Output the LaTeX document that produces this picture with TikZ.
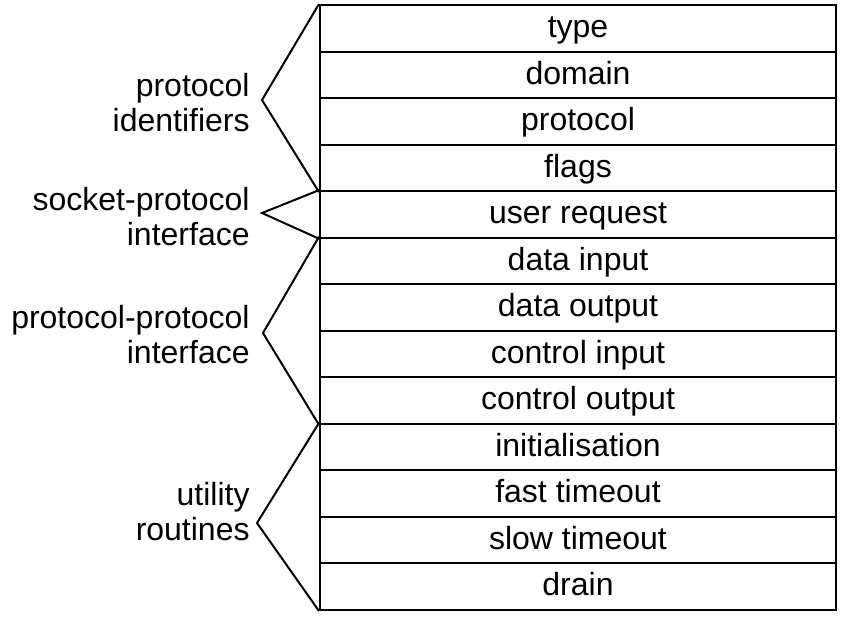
\documentclass[tikz,border=0pt]{standalone}
\usepackage{fontspec}
\setmainfont{Liberation Sans}
\begin{document}
\begin{tikzpicture}[x=0.5pt,y=-0.5pt,
  rowbox/.style={draw, line width=1pt, minimum width=258pt, minimum height=23.27pt,
    inner sep=0pt, text height=9.2pt, text depth=0pt, font=\fontsize{16}{17.25}\selectfont},
  sidelabel/.style={anchor=base east, align=right, inner sep=0pt, font=\fontsize{16}{17.25}\selectfont},
  bracketline/.style={line width=1pt, line join=miter}]
\useasboundingbox (0,0) rectangle (849,621);
\foreach \i/\t in {1/type,2/domain,3/protocol,4/flags,5/user request,6/data input,7/data output,8/control input,9/control output,10/initialisation,11/fast timeout,12/slow timeout,13/drain}{
  \node[rowbox] (r\i) at (578,{5+46.54*(\i-0.5)}) {\t};
}
\coordinate (a1) at (262,100);
\coordinate (a2) at (262,213);
\coordinate (a3) at (263,333);
\coordinate (a4) at (257,523);
\draw[bracketline] (r1.north west) -- (a1) -- (r4.south west);
\draw[bracketline] (r5.north west) -- (a2) -- (r5.south west);
\draw[bracketline] (r6.north west) -- (a3) -- (r9.south west);
\draw[bracketline] (r10.north west) -- (a4) -- (r13.south west);
\node[sidelabel] (l1) at (250,131) {protocol\\identifiers};
\node[sidelabel] (l2) at (250,245) {socket-protocol\\interface};
\node[sidelabel] (l3) at (250,363) {protocol-protocol\\interface};
\node[sidelabel] (l4) at (250,540) {utility\\routines};
\end{tikzpicture}
\end{document}
